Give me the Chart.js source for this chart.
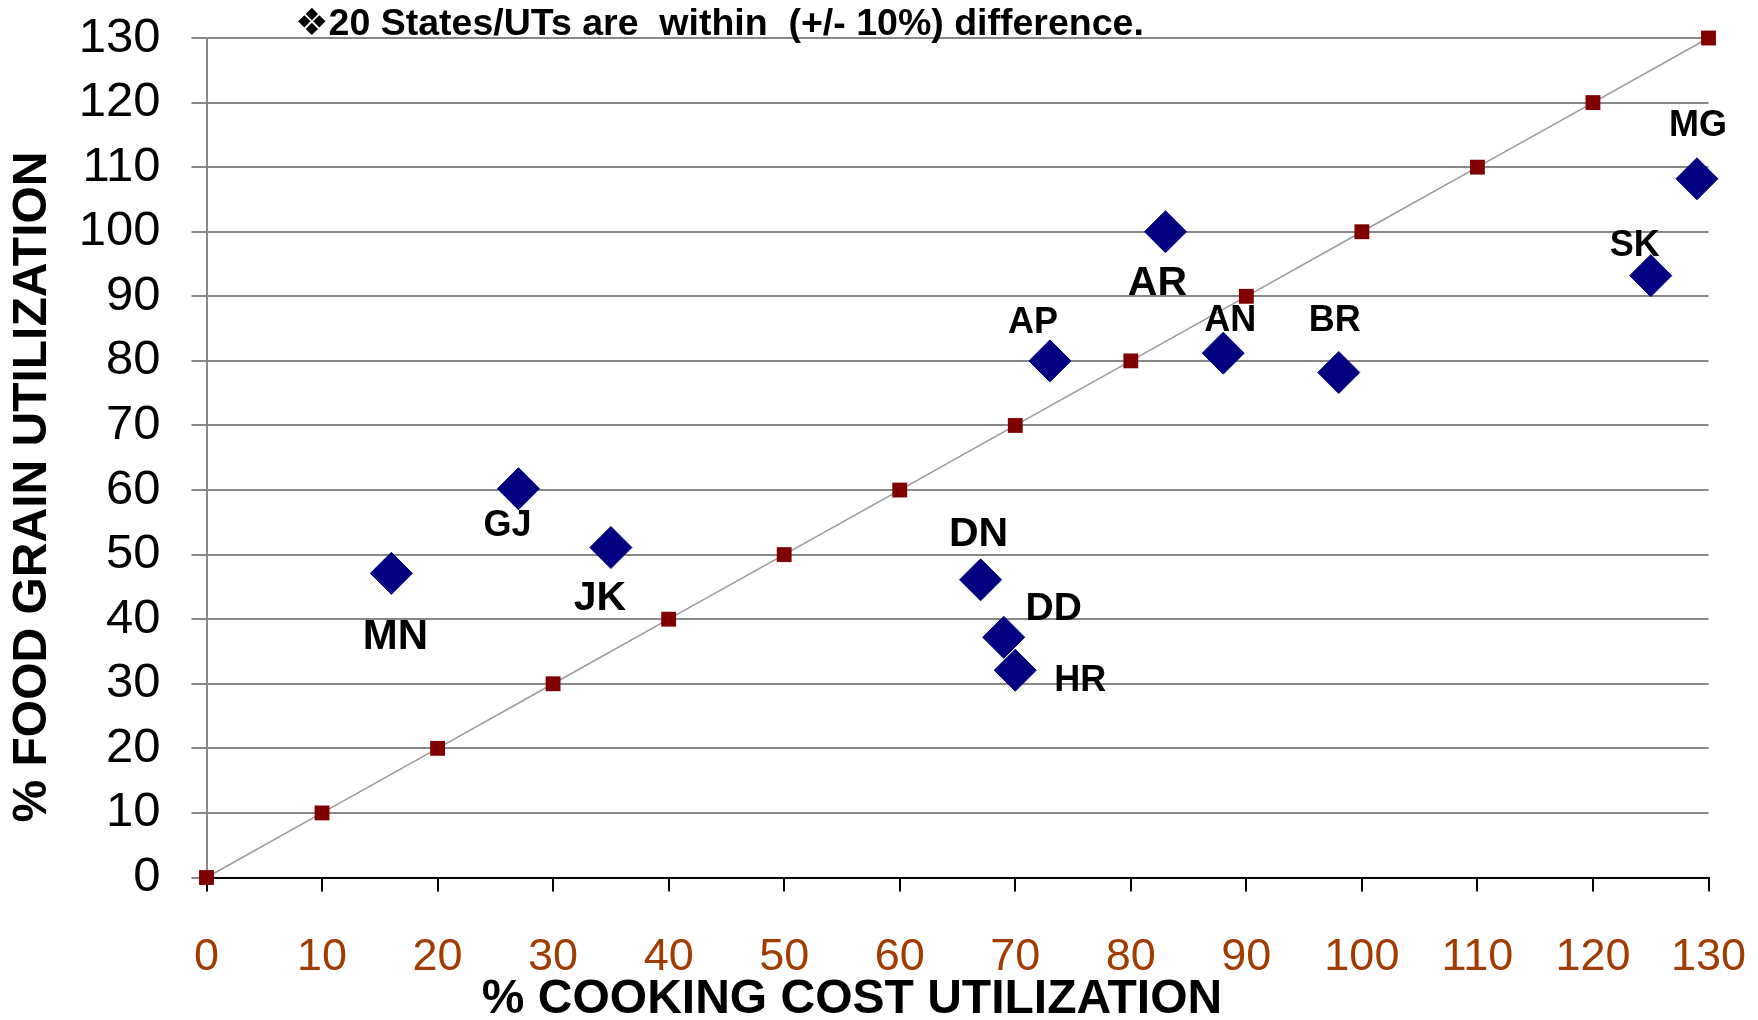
<!DOCTYPE html>
<html>
<head>
<meta charset="utf-8">
<script src="https://cdn.jsdelivr.net/npm/chart.js@4.4.1/dist/chart.umd.min.js"></script>
<style>
  body { margin: 0; background: #fff; }
  #wrap { width: 1758px; height: 1020px; }
</style>
</head>
<body>
<div id="wrap"><canvas id="chart" width="1758" height="1020"></canvas></div>
<script>
const refX = [0, 10, 20, 30, 40, 50, 60, 70, 80, 90, 100, 110, 120, 130];
const refY = [0, 10, 20, 30, 40, 50, 60, 70, 80, 90, 100, 110, 120, 130];

const stateCodes = ['MN', 'GJ', 'JK', 'DN', 'DD', 'HR', 'AP', 'AR', 'AN', 'BR', 'SK', 'MG'];
const cookingCost = [16, 27, 35, 67, 69, 70, 73, 83, 88, 98, 125, 129];
const foodGrain = [47.1, 60.2, 51.1, 46.1, 37.2, 32.1, 80, 100, 81.2, 78.2, 93.2, 108.2];

// label placement relative to each diamond (px) and label size
const labelOffsets = [[4, 64], [-11, 37], [-11, 51], [-2, -45], [50, -28], [65, 11],
  [-17, -38], [-8, 52], [7, -32], [-4, -51], [-16, -30], [1, -53]];
const labelSizes = [42, 36, 41, 41, 39, 36, 36, 41, 36, 36, 36, 36];

const noteText = '\u275620 States/UTs are  within  (+/- 10%) difference.';
const xTitle = '% COOKING COST UTILIZATION';
const yTitle = '% FOOD GRAIN UTILIZATION';

const FONT = '"Liberation Sans", Arial, "DejaVu Sans", sans-serif';

const textPlugin = {
  id: 'textPlugin',
  afterDatasetsDraw(chart) {
    const ctx = chart.ctx;
    const meta = chart.getDatasetMeta(0);
    ctx.save();
    ctx.fillStyle = '#000';
    ctx.textAlign = 'center';
    ctx.textBaseline = 'middle';
    meta.data.forEach((el, i) => {
      ctx.font = 'bold ' + labelSizes[i] + 'px ' + FONT;
      ctx.fillText(stateCodes[i], el.x + labelOffsets[i][0], el.y + labelOffsets[i][1]);
    });

    ctx.textAlign = 'left';
    ctx.textBaseline = 'alphabetic';
    ctx.font = 'bold 37.5px ' + FONT;
    ctx.fillText(noteText, 295, 35);

    // axis titles
    ctx.textAlign = 'center';
    ctx.textBaseline = 'middle';
    ctx.font = 'bold 48px ' + FONT;
    ctx.fillText(xTitle, 852, 1000);

    ctx.translate(33, 487);
    ctx.rotate(-Math.PI / 2);
    ctx.fillText(yTitle, 0, 0);
    ctx.restore();
  }
};

new Chart(document.getElementById('chart'), {
  type: 'scatter',
  data: {
    datasets: [
      {
        label: 'States',
        data: cookingCost.map((x, i) => ({ x: x, y: foodGrain[i] })),
        clip: false,
        pointStyle: 'rectRot',
        pointRadius: 21,
        pointHoverRadius: 21,
        backgroundColor: '#000080',
        borderColor: '#000080',
        borderWidth: 1
      },
      {
        label: 'Reference',
        data: refX.map((x, i) => ({ x: x, y: refY[i] })),
        clip: false,
        showLine: true,
        borderColor: '#999999',
        borderWidth: 1.5,
        pointStyle: 'rect',
        pointRadius: 10.5,
        pointHoverRadius: 10.5,
        pointBackgroundColor: '#800000',
        pointBorderColor: '#800000',
        pointBorderWidth: 0
      }
    ]
  },
  options: {
    responsive: false,
    animation: false,
    layout: { padding: { left: 0, right: 49.5, top: 38, bottom: 0 } },
    plugins: {
      legend: { display: false },
      tooltip: { enabled: false }
    },
    scales: {
      x: {
        type: 'linear',
        min: 0,
        max: 130,
        afterFit(scale) {
          scale.height = 142.5;
          scale.paddingLeft = 0;
          scale.paddingRight = 0;
        },
        ticks: {
          stepSize: 10,
          padding: 39,
          color: '#A03C00',
          font: { family: FONT, size: 45 }
        },
        grid: {
          drawOnChartArea: false,
          color: '#000',
          lineWidth: 2,
          tickLength: 14
        },
        border: { color: '#000', width: 2 }
      },
      y: {
        type: 'linear',
        min: 0,
        max: 130,
        afterFit(scale) {
          scale.width = 206.5;
          scale.paddingTop = 0;
          scale.paddingBottom = 0;
        },
        ticks: {
          stepSize: 10,
          padding: 31,
          color: '#000',
          font: { family: FONT, size: 49 }
        },
        grid: {
          color: '#888888',
          lineWidth: 2,
          tickLength: 15
        },
        border: { color: '#888888', width: 2 }
      }
    }
  },
  plugins: [textPlugin]
});
</script>
</body>
</html>
